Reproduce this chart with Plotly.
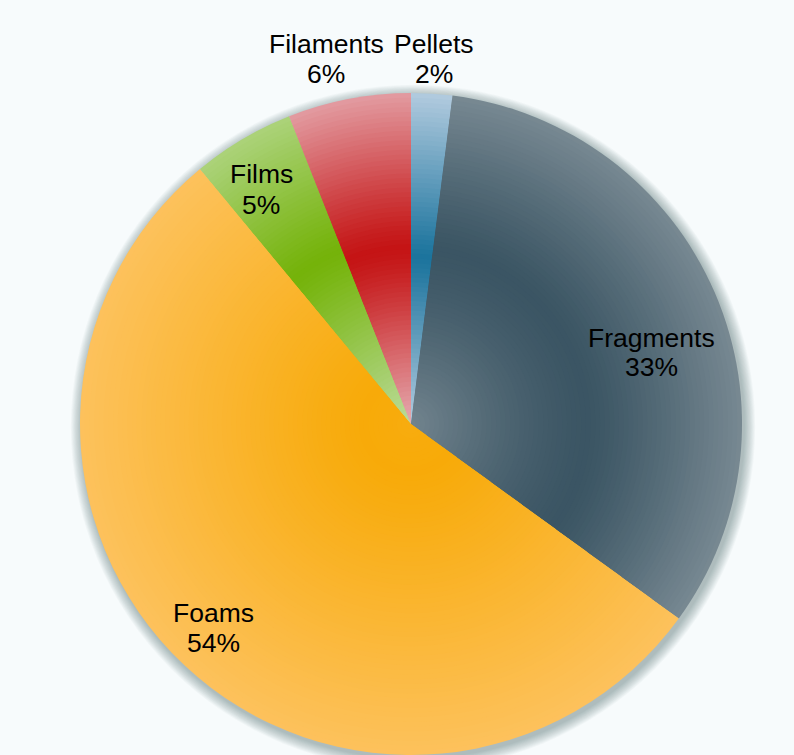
import numpy as np
import plotly.graph_objects as go

# ---- data -------------------------------------------------------------
categories = ["Pellets", "Fragments", "Foams", "Films", "Filaments"]
shares = [2, 33, 54, 5, 6]  # percent of items

# gradient end colours for each category (centre colour, rim colour)
dark_colors = ["#15709a", "#1b3a4b", "#f7a800", "#70b000", "#c00000"]
light_colors = ["#b4cce0", "#b2babf", "#ffcc82", "#bcdc9c", "#e6acb2"]

# label anchor points (pixels) for the name line and the percent line
label_pos = {
    "Pellets": (434, 44, 74),
    "Fragments": (651, 338, 367),
    "Foams": (213, 613, 643),
    "Films": (261, 174, 205),
    "Filaments": (326, 44, 74),
}

# ---- geometry ---------------------------------------------------------
W, H = 794, 755
cx, cy = 411, 424
R = 331
N_RINGS = 70


def hex_rgb(h):
    h = h.lstrip("#")
    return np.array([int(h[i:i + 2], 16) for i in (0, 2, 4)], dtype=float)


def polar_px(theta_deg, r):
    th = np.radians(theta_deg)
    return cx + r * np.sin(th), cy - r * np.cos(th)


total = float(sum(shares))
bounds = np.concatenate([[0.0], np.cumsum(shares) / total * 360.0])

# radial gradient centre = centre of each slice's bounding box
grad_center, grad_extent = [], []
for k in range(len(categories)):
    a0, a1 = bounds[k], bounds[k + 1]
    pts = [(cx, cy), polar_px(a0, R), polar_px(a1, R)]
    pts += [polar_px(c, R) for c in (90, 180, 270) if a0 < c < a1]
    xs = [p[0] for p in pts]
    ys = [p[1] for p in pts]
    grad_center.append(((min(xs) + max(xs)) / 2, (min(ys) + max(ys)) / 2))
    grad_extent.append(np.hypot(max(xs) - min(xs), max(ys) - min(ys)) / 2)

dark_rgb = [hex_rgb(c) for c in dark_colors]
light_rgb = [hex_rgb(c) for c in light_colors]


def band_color(k, r):
    a0, a1 = bounds[k], bounds[k + 1]
    th = np.linspace(a0, a1, 41)
    px, py = polar_px(th, r)
    gx, gy = grad_center[k]
    t = np.clip(np.hypot(px - gx, py - gy) / grad_extent[k], 0, 1)
    # lean a little toward the part of the arc nearest the gradient centre
    t_eff = 0.3 * t.min() + 0.7 * t.mean()
    c = dark_rgb[k] + (light_rgb[k] - dark_rgb[k]) * t_eff
    return "rgb(%d,%d,%d)" % tuple(np.round(c).astype(int))


def domain_for(rho):
    return dict(
        x=[(cx - rho) / W, (cx + rho) / W],
        y=[1 - (cy + rho) / H, 1 - (cy - rho) / H],
    )


fig = go.Figure()

# nested pies, largest first, each a band of the radial shading
for i in range(N_RINGS):
    rho = R * (N_RINGS - i) / N_RINGS
    rmid = rho - R / (2 * N_RINGS)
    fig.add_trace(
        go.Pie(
            labels=categories,
            values=shares,
            sort=False,
            direction="clockwise",
            rotation=0,
            marker=dict(colors=[band_color(k, rmid) for k in range(len(categories))],
                        line=dict(width=0)),
            textinfo="none",
            hoverinfo="label+percent" if i == 0 else "skip",
            domain=domain_for(rho),
            showlegend=False,
        )
    )

# soft shadow around the pie, slightly offset down and right
shapes = []
for j in range(1, 15):
    rr = R + j * 0.8
    shapes.append(
        dict(
            type="circle", xref="paper", yref="paper", layer="below",
            x0=(cx + 2 - rr) / W, x1=(cx + 2 + rr) / W,
            y0=1 - (cy + 3 + rr) / H, y1=1 - (cy + 3 - rr) / H,
            fillcolor="rgba(50,60,70,0.026)", line=dict(width=0),
        )
    )

# data labels: name on one line, percentage below
annotations = []
for name, val in zip(categories, shares):
    x, y1, y2 = label_pos[name]
    pct = round(val / total * 100)
    for txt, yy in ((name, y1), (f"{pct}%", y2)):
        annotations.append(
            dict(
                text=txt, xref="paper", yref="paper",
                x=x / W, y=1 - yy / H, xanchor="center", yanchor="middle",
                showarrow=False,
                font=dict(family="Liberation Sans, Arial, sans-serif", size=26.5, color="#000000"),
            )
        )

fig.update_layout(
    width=W,
    height=H,
    margin=dict(l=0, r=0, t=0, b=0),
    paper_bgcolor="#f7fbfc",
    plot_bgcolor="#f7fbfc",
    shapes=shapes,
    annotations=annotations,
    showlegend=False,
)

fig.write_html("out.html")
